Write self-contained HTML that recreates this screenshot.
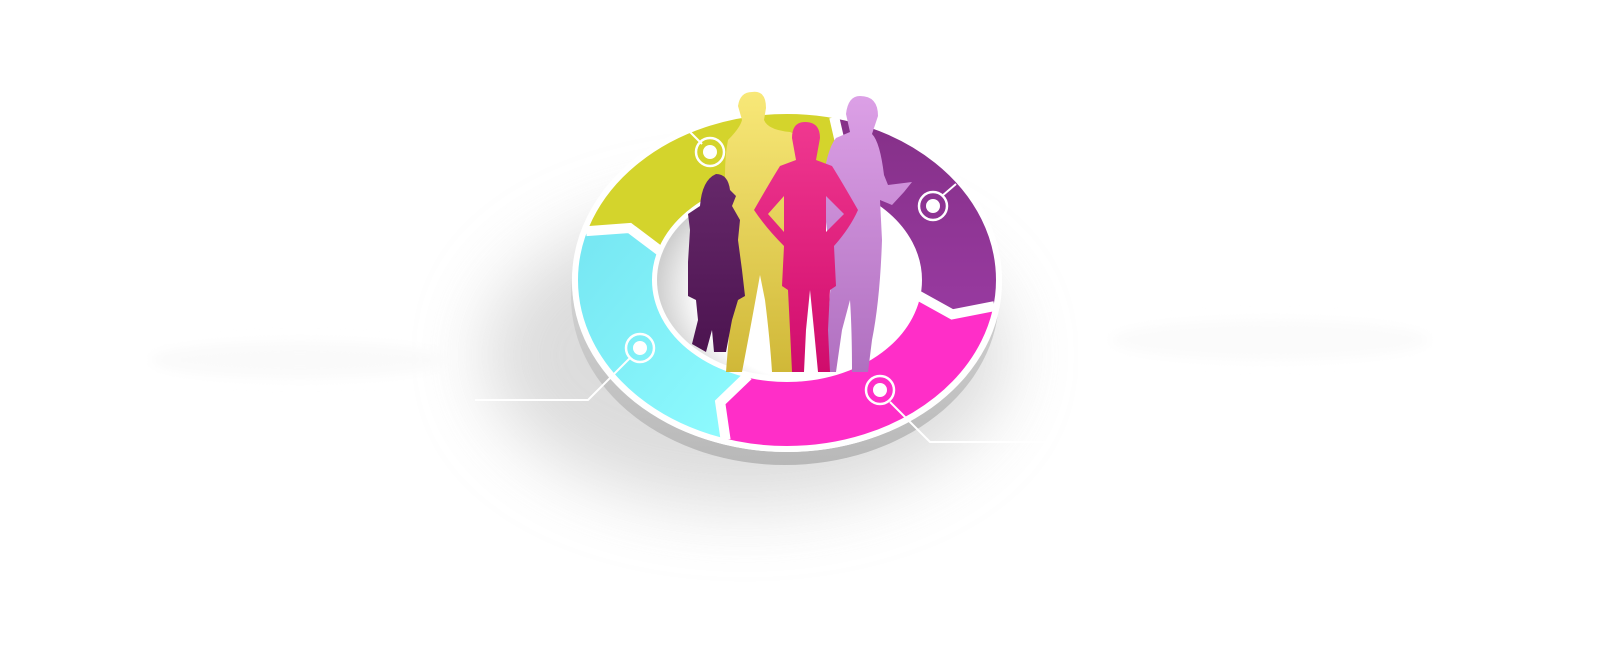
<!DOCTYPE html>
<html><head><meta charset="utf-8"><style>
html,body{margin:0;padding:0;background:#fff;width:1600px;height:650px;overflow:hidden}
svg{display:block}
</style></head><body>
<svg id="s" width="1600" height="650" viewBox="0 0 1600 650" xmlns="http://www.w3.org/2000/svg">
<defs>
<filter id="blur" x="-50%" y="-50%" width="200%" height="200%"><feGaussianBlur stdDeviation="35"/></filter>
<filter id="blur2" x="-50%" y="-50%" width="200%" height="200%"><feGaussianBlur stdDeviation="6"/></filter>
<linearGradient id="base" x1="0" y1="0" x2="0" y2="1"><stop offset="0" stop-color="#e8e8e8"/><stop offset="1" stop-color="#b8b8b8"/></linearGradient>
<linearGradient id="cy" x1="0" y1="0" x2="1" y2="1"><stop offset="0" stop-color="#76e6f2"/><stop offset="1" stop-color="#8ffcff"/></linearGradient>
<linearGradient id="pu" x1="0" y1="0" x2="0" y2="1"><stop offset="0" stop-color="#853088"/><stop offset="1" stop-color="#983aa0"/></linearGradient>
<linearGradient id="ym" x1="0" y1="0" x2="0" y2="1"><stop offset="0" stop-color="#f8e878"/><stop offset="1" stop-color="#d0b838"/></linearGradient>
<linearGradient id="lm" x1="0" y1="0" x2="0" y2="1"><stop offset="0" stop-color="#dca0e6"/><stop offset="1" stop-color="#b070c0"/></linearGradient>
<linearGradient id="pw" x1="0" y1="0" x2="0" y2="1"><stop offset="0" stop-color="#f03890"/><stop offset="1" stop-color="#d00c6c"/></linearGradient>
<linearGradient id="dw" x1="0" y1="0" x2="0" y2="1"><stop offset="0" stop-color="#66286a"/><stop offset="1" stop-color="#4c1450"/></linearGradient>
<radialGradient id="hole" cx="0.65" cy="0.55" r="0.65"><stop offset="0.75" stop-color="#fff"/><stop offset="1" stop-color="#cfcfcf"/></radialGradient>
</defs>
<!-- shadow -->
<ellipse cx="745" cy="355" rx="260" ry="150" fill="#cdcdcd" filter="url(#blur)" opacity="0.7"/>
<ellipse cx="300" cy="360" rx="150" ry="18" fill="#fafafa" filter="url(#blur2)"/>
<ellipse cx="1270" cy="340" rx="160" ry="20" fill="#fbfbfb" filter="url(#blur2)"/>
<!-- base thickness -->
<ellipse cx="785" cy="297" rx="214" ry="168" fill="url(#base)"/>
<ellipse cx="787" cy="282" rx="215" ry="170" fill="#fff"/>
<g id="segs"></g>
<!-- hole -->
<ellipse cx="785" cy="280" rx="128" ry="96" fill="url(#hole)"/>
<!-- people -->
<g>
<path d="M752 92 Q766 90 766 108 L764 120 Q768 130 790 132 Q808 138 808 160 L808 260 Q806 300 800 340 L796 372 L772 372 Q770 340 765 300 L760 275 Q752 320 742 372 L726 372 Q730 320 734 290 L728 220 Q722 170 728 140 Q740 128 742 120 L738 106 Q740 92 752 92Z" fill="url(#ym)"/>
<path d="M860 96 Q878 96 878 116 L872 134 Q880 142 884 175 L888 185 L912 182 L904 192 L892 205 L880 200 L882 240 Q880 300 872 340 L868 372 L852 372 Q852 330 850 300 L842 330 L836 372 L822 372 Q828 320 832 270 L822 190 Q826 150 836 138 L850 132 L846 114 Q848 96 860 96Z" fill="url(#lm)"/>
<path d="M805 122 Q820 122 820 138 L816 160 L832 166 Q842 182 858 210 Q850 228 834 246 L836 286 L830 290 L828 330 L830 372 L818 372 L814 330 L810 290 L806 330 L804 372 L792 372 L790 330 L788 290 L782 286 L784 246 Q766 228 754 210 Q770 182 780 166 L796 160 L792 138 Q792 122 805 122Z M784 196 L768 214 L784 232Z M826 196 L844 214 L826 232Z" fill="url(#pw)" fill-rule="evenodd"/>
<path d="M716 174 Q728 174 730 190 L736 196 L732 206 L740 220 L738 240 L742 270 L745 296 L738 300 L732 320 L726 352 L714 352 L712 330 L706 352 L692 344 L698 320 L696 300 L688 296 L688 262 L690 230 L688 214 L700 206 Q702 180 716 174Z" fill="url(#dw)"/>
</g>
<!-- connectors -->
<g stroke="#fff" stroke-width="2" fill="none">
<polyline points="630,358 588,400 475,400"/>
<polyline points="890,402 930,442 1046,442"/>
<line x1="702" y1="144" x2="690" y2="132"/>
<line x1="942" y1="196" x2="956" y2="184"/>
</g>
<circle cx="1047" cy="442" r="2" fill="#fff"/>
<g id="marks"></g>
</svg>
<script>
(function(){
var cx=787,cy=280,RX=[210,171,133],RY=[167,133,100];
function P(k,a){var r=a*Math.PI/180;return [cx+RX[k]*Math.cos(r),cy+RY[k]*Math.sin(r)];}
function f(p){return p[0].toFixed(1)+','+p[1].toFixed(1);}
var segs=[[197,283,'#d4d42c'],[283,369,'url(#pu)'],[9,107,'#ff2ec8'],[107,197,'url(#cy)']];
var d=6,out='';
segs.forEach(function(s){
 var a=s[0],b=s[1],pts=[];
 if(b<a)b+=360;
 for(var t=a;t<=b;t+=1)pts.push(P(0,t));
 pts.push(P(1,b+d));
 for(var t=b;t>=a;t-=1)pts.push(P(2,t));
 pts.push(P(1,a+d));
 out+='<polygon points="'+pts.map(f).join(' ')+'" fill="'+s[2]+'"/>';
});
[197,283,9,107].forEach(function(a){
 out+='<polyline points="'+[P(0,a),P(1,a+d),P(2,a)].map(f).join(' ')+'" stroke="#fff" stroke-width="10" fill="none" stroke-linejoin="miter"/>';
});
out+='<ellipse cx="'+cx+'" cy="'+cy+'" rx="'+(RX[0]+2)+'" ry="'+(RY[0]+2)+'" fill="none" stroke="#fff" stroke-width="6"/>';
out+='<ellipse cx="'+cx+'" cy="'+cy+'" rx="'+(RX[2]-2)+'" ry="'+(RY[2]-2)+'" fill="none" stroke="#fff" stroke-width="8"/>';
document.getElementById('segs').innerHTML=out;
var m='';
[[710,152],[933,206],[640,348],[880,390]].forEach(function(c){
 m+='<circle cx="'+c[0]+'" cy="'+c[1]+'" r="14" fill="none" stroke="#fff" stroke-width="2.5"/><circle cx="'+c[0]+'" cy="'+c[1]+'" r="7" fill="#fff"/>';
});
document.getElementById('marks').innerHTML=m;
})();
</script>
</body></html>
